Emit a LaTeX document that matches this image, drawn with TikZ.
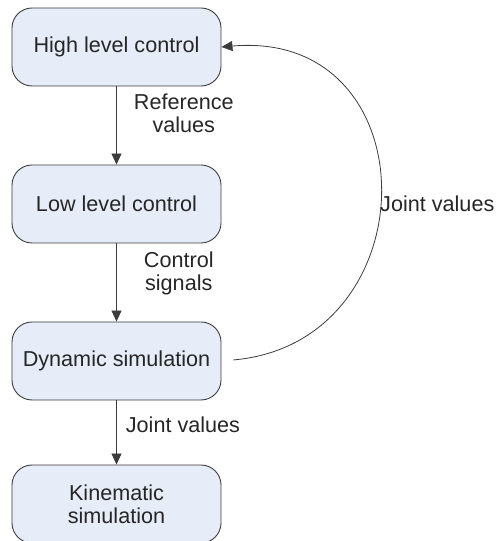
\documentclass[tikz,border=0pt]{standalone}
\usepackage{fontspec}
\setmainfont{Liberation Sans}
\usepackage{xcolor}
\usetikzlibrary{arrows.meta}

\definecolor{boxfill}{RGB}{230,236,248}
\definecolor{lineclr}{RGB}{60,60,60}

\tikzset{
	block/.style={draw=lineclr, fill=boxfill, rounded corners=20bp, line width=0.9bp,
		minimum width=209bp, minimum height=78bp, align=center, text=black!85},
	flow/.style={draw=lineclr, line width=0.8bp, -{Triangle[length=11bp,width=10bp]}},
	lbl/.style={align=center, text=black!85, inner sep=0pt}
}

\begin{document}
\fontsize{21.7}{23.5}\selectfont
\begin{tikzpicture}[x=1bp, y=1bp]
	\useasboundingbox (0,0) rectangle (498,541);

	\node [block] (high) at (116.5,494) {High level control};
	\node [block] (low) at (116.5,337) {Low level control};
	\node [block] (dyn) at (116.5,180) {Dynamic simulation};
	\node [block] (kin) at (116.5,37) {Kinematic\\simulation};

	\draw [flow] (high) -- (low) node [lbl, pos=0.34, right=17bp] (refval) {Reference\\values};
	\draw [flow] (low) -- (dyn) node [lbl, pos=0.38, right=27bp] (ctrlsig) {Control\\signals};
	\draw [flow] (dyn) -- (kin) node [lbl, pos=0.38, right=9bp] (jointa) {Joint values};

	\draw [flow, shorten <=12bp] (dyn.east) to [out=5, in=5, looseness=1.72] (high.east);
	\node [lbl, anchor=west] (jointb) at (380,337) {Joint values};
\end{tikzpicture}
\end{document}
